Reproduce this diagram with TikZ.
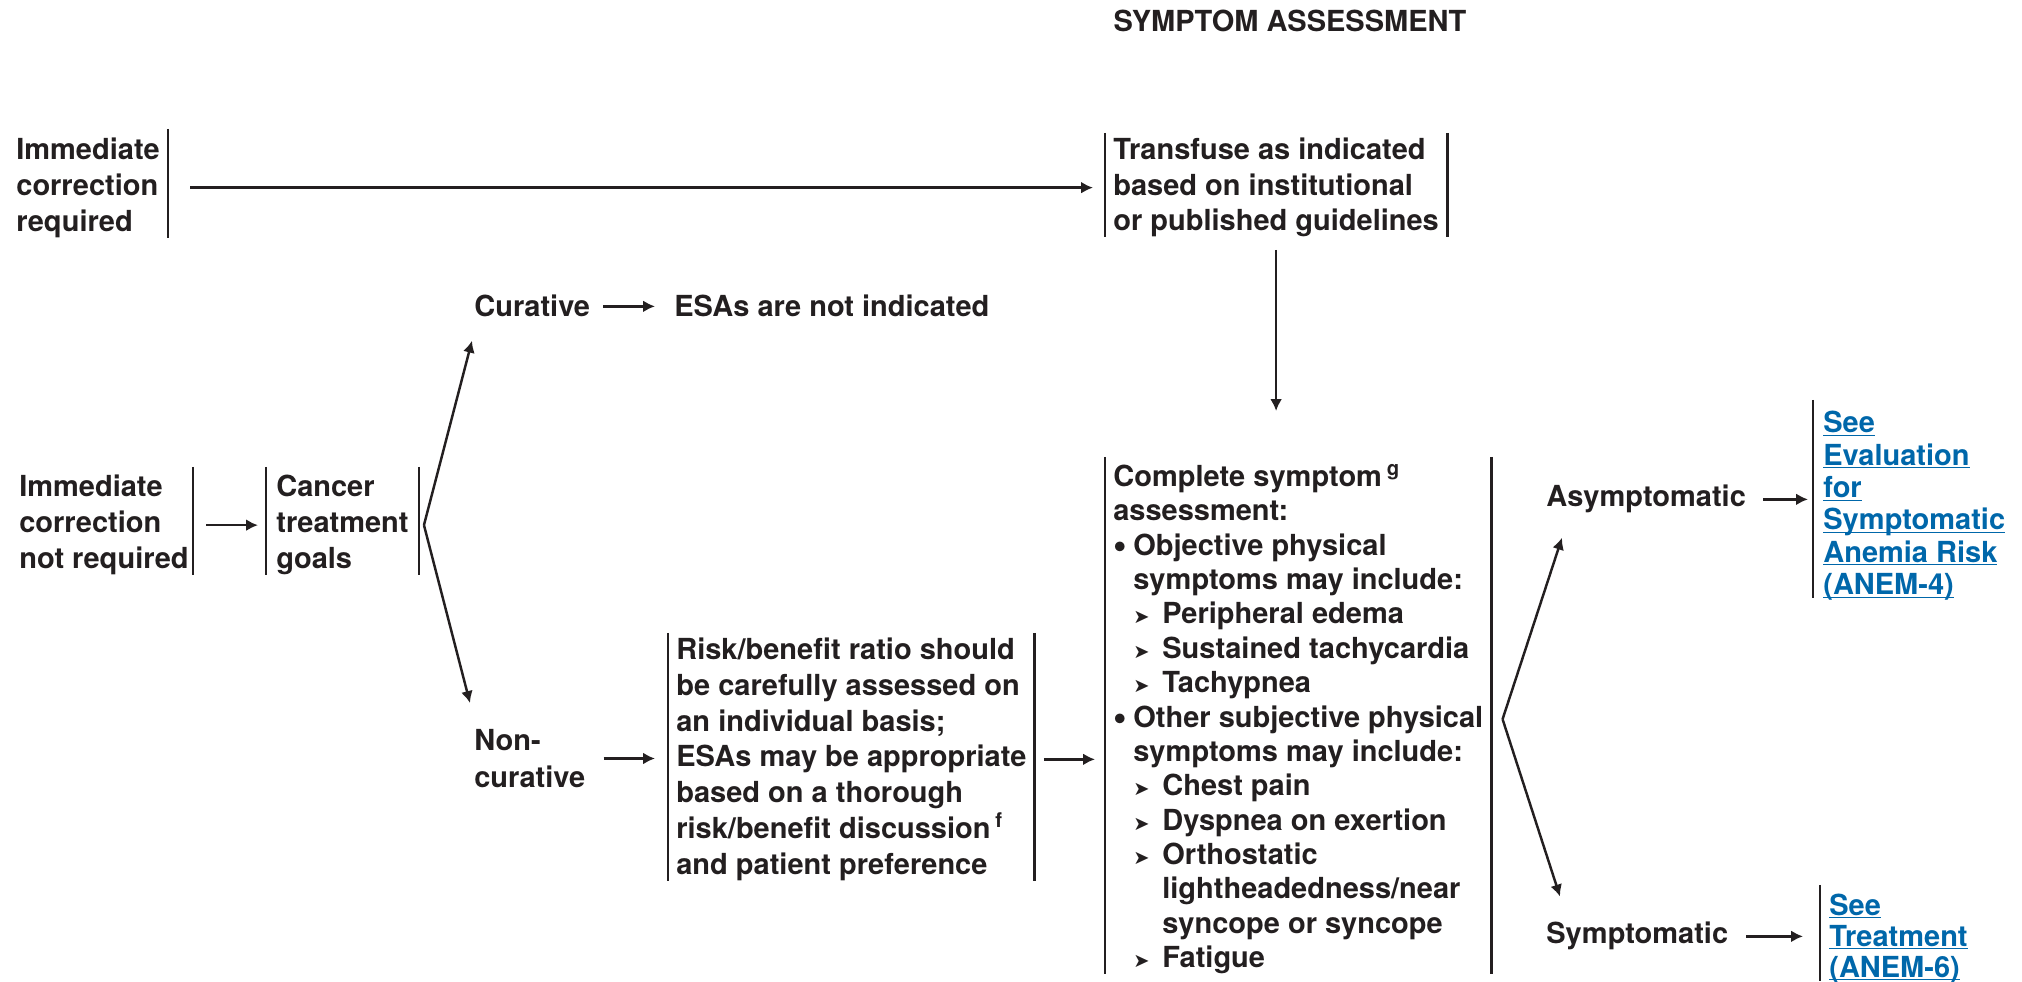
\documentclass[tikz,border=0pt]{standalone}
\usepackage{fontspec}
\setmainfont{TeX Gyre Heros}
\newfontfamily\symfont{DejaVu Sans}
\usetikzlibrary{arrows.meta}
\definecolor{ink}{RGB}{35,31,32}
\definecolor{linkblue}{RGB}{0,103,170}
\newcommand{\lnk}[1]{\underline{\raisebox{0pt}[\height][0pt]{#1}}}
\newcommand{\arrowmark}{{\symfont\fontsize{11}{11}\selectfont ➤}}
\newcommand{\dotitem}{\makebox[0.4cm][l]{\raisebox{-0.06cm}{\fontsize{22}{22}\selectfont\textbullet}}}
\newcommand{\arrowitem}{\makebox[0.58cm][l]{\arrowmark}}
\newcommand{\indone}{\hspace*{0.4cm}}
\newcommand{\indtwo}{\hspace*{0.98cm}}

\begin{document}
\begin{tikzpicture}
		\tikzstyle {box text} = [font=\fontsize{16.5}{20.4}\selectfont\bfseries, text=ink, align=left, inner sep=0pt]
		\tikzstyle {link text} = [box text, text=linkblue]
		\tikzstyle {bar line} = [draw=ink, line width=1.6pt]
		\tikzstyle {flow line} = [draw=ink, line width=1.4pt, -{Latex[length=6.8pt,width=6.8pt]}]

		\useasboundingbox (0,0) rectangle (40.44,19.64);

		\node[box text] (title) at (25.80,19.23) {SYMPTOM ASSESSMENT};

		\node[box text, anchor=north east, inner xsep=0.16cm] (icr) at (3.36,16.89) {Immediate\\correction\\required};
		\node[box text, anchor=north west, inner xsep=0.16cm, font=\fontsize{16.5}{20.1}\selectfont\bfseries] (tr) at (22.10,16.88) {Transfuse as indicated\\based on institutional\\or published guidelines};

		\node[box text, anchor=base west] (cur) at (9.48,13.30) {Curative};
		\node[box text, anchor=base west] (esa) at (13.48,13.30) {ESAs are not indicated};

		\node[box text, anchor=north east, inner xsep=0.08cm] (icnr) at (3.86,10.14) {Immediate\\correction\\not required};
		\node[box text, anchor=north west, inner xsep=0.2cm] (ctg) at (5.32,10.14) {Cancer\\treatment\\goals};
		\node[box text, anchor=north west, font=\fontsize{16.5}{21}\selectfont\bfseries] (noncur) at (9.48,5.06) {Non-\\curative};
		\node[box text, anchor=north west, inner xsep=0.16cm] (risk) at (13.36,6.89) {Risk/benefit ratio should\\be carefully assessed on\\an individual basis;\\ESAs may be appropriate\\based on a thorough\\risk/benefit discussion\,\textsuperscript{f}\\and patient preference};

		\node[box text, anchor=north west, inner xsep=0.16cm, font=\fontsize{16.5}{19.56}\selectfont\bfseries] (comp) at (22.10,10.36) {Complete symptom\,\textsuperscript{g}\\assessment:\\\dotitem Objective physical\\\indone symptoms may include:\\\indone\arrowitem Peripheral edema\\\indone\arrowitem Sustained tachycardia\\\indone\arrowitem Tachypnea\\\dotitem Other subjective physical\\\indone symptoms may include:\\\indone\arrowitem Chest pain\\\indone\arrowitem Dyspnea on exertion\\\indone\arrowitem Orthostatic\\\indtwo lightheadedness/near\\\indtwo syncope or syncope\\\indone\arrowitem Fatigue};

		\node[box text, anchor=base west] (asym) at (30.92,9.50) {Asymptomatic};
		\node[box text, anchor=base west] (sym) at (30.92,0.76) {Symptomatic};

		\node[link text, anchor=north west, inner xsep=0.2cm, font=\fontsize{16.5}{18.4}\selectfont\bfseries] (seeeval) at (36.26,11.42) {\lnk{See}\\\lnk{Evaluation}\\\lnk{for}\\\lnk{Symptomatic}\\\lnk{Anemia Risk}\\\lnk{(ANEM-4)}};
		\node[link text, anchor=north west, inner xsep=0.18cm, font=\fontsize{16.5}{17.6}\selectfont\bfseries] (seetreat) at (36.40,1.77) {\lnk{See}\\\lnk{Treatment}\\\lnk{(ANEM-6)}};

		\draw[bar line] ([yshift=0.17cm]icr.north east) -- (icr.south east);
		\draw[bar line] ([yshift=0.1cm]tr.north west) -- (tr.south west);
		\draw[bar line] ([yshift=0.1cm]tr.north east) -- (tr.south east);
		\draw[bar line] ([yshift=0.16cm]icnr.north east) -- (icnr.south east);
		\draw[bar line] ([yshift=0.16cm]ctg.north west) -- (ctg.south west);
		\draw[bar line] ([yshift=0.16cm]ctg.north east) -- (ctg.south east);
		\draw[bar line] ([yshift=0.09cm]risk.north west) -- (risk.south west);
		\draw[bar line] ([yshift=0.09cm]risk.north east) -- (risk.south east);
		\draw[bar line] ([yshift=0.14cm]comp.north west) -- (comp.south west);
		\draw[bar line] ([yshift=0.14cm]comp.north east) -- (comp.south east);
		\draw[bar line] ([yshift=0.22cm]seeeval.north west) -- (seeeval.south west);
		\draw[bar line] ([yshift=0.17cm]seetreat.north west) -- (seetreat.south west);

		\draw[flow line, shorten <=0.44cm, shorten >=0.24cm] (icr.east) -- (icr.east -| tr.west);
		\draw[flow line, shorten <=0.25cm, shorten >=1.06cm] (tr.south) -- (tr.south |- comp.north);
		\draw[flow line, shorten <=0.26cm, shorten >=0.38cm] (cur.east) -- (esa.west);
		\draw[flow line, shorten <=0.26cm, shorten >=0.16cm] (icnr.east) -- (icnr.east -| ctg.west);
		\draw[flow line, shorten <=0.36cm, shorten >=0.26cm] (noncur.east) -- (noncur.east -| risk.west);
		\draw[flow line, shorten <=0.18cm, shorten >=0.2cm] (risk.east) -- (risk.east -| comp.west);
		\draw[flow line, shorten <=0.34cm, shorten >=0.1cm] (asym.east) -- (asym.east -| seeeval.west);
		\draw[flow line, shorten <=0.36cm, shorten >=0.34cm] (sym.east) -- (sym.east -| seetreat.west);

		\coordinate (ctgfork) at ([xshift=0.1cm]ctg.east);
		\draw[flow line] (ctgfork) -- ([shift={(-0.04,-0.46)}]cur.south west);
		\draw[flow line] (ctgfork) -- ([shift={(-0.08,0.52)}]noncur.north west);

		\coordinate (compfork) at ([xshift=0.22cm]comp.east);
		\draw[flow line] (compfork) -- ([shift={(0.32,-0.48)}]asym.south west);
		\draw[flow line] (compfork) -- ([shift={(0.28,0.51)}]sym.north west);
\end{tikzpicture}
\end{document}
